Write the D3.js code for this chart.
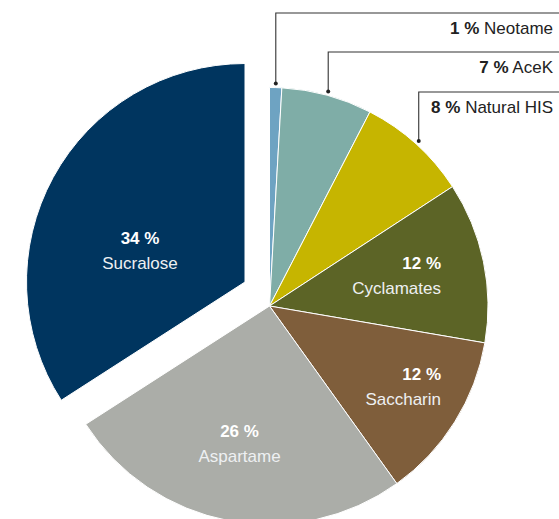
<!DOCTYPE html>
<html>
<head>
<meta charset="utf-8">
<script src="https://cdn.jsdelivr.net/npm/d3@7"></script>
<style>
  html, body { margin: 0; padding: 0; background: #ffffff; }
  svg { display: block; font-family: "Liberation Sans", Arial, Helvetica, sans-serif; }
</style>
</head>
<body>
<svg id="chart" width="559" height="519"></svg>
<script>
// ---- data ----
const categories = ["Neotame", "AceK", "Natural HIS", "Cyclamates", "Saccharin", "Aspartame", "Sucralose"];
const shares     = [0.9, 6.7, 8.2, 11.9, 12.4, 25.8, 34.1];
const shareLabels = ["1 %", "7 %", "8 %", "12 %", "12 %", "26 %", "34 %"];
const colors     = ["#6ea3c2", "#7fada7", "#c6b500", "#5c6426", "#7f5e3b", "#abada8", "#00355f"];

// ---- layout ----
const cx = 269.5, cy = 306, R = 218.5;
const explodeName = "Sucralose", explodeDx = -24.5, explodeDy = -24;
const calloutNames = ["Neotame", "AceK", "Natural HIS"];
const calloutLineY = [13, 52, 92];
const calloutTextX = 553;
const insideLabels = {
  "Sucralose":  {x: 140,   y: 244,   anchor: "middle"},
  "Aspartame":  {x: 239.5, y: 436.5, anchor: "middle"},
  "Saccharin":  {x: 441,   y: 380,   anchor: "end"},
  "Cyclamates": {x: 441,   y: 269,   anchor: "end"}
};

const data = categories.map((c, i) => ({name: c, value: shares[i], label: shareLabels[i], color: colors[i]}));

const svg = d3.select("#chart");
const g = svg.append("g").attr("transform", `translate(${cx},${cy})`);

const pie = d3.pie().sort(null).value(d => d.value).startAngle(0).endAngle(2 * Math.PI);
const arcs = pie(data);
const arc = d3.arc().innerRadius(0).outerRadius(R);

g.selectAll("path.slice")
  .data(arcs)
  .join("path")
  .attr("class", "slice")
  .attr("d", arc)
  .attr("fill", d => d.data.color)
  .attr("stroke", "#ffffff")
  .attr("stroke-width", 1)
  .attr("stroke-linejoin", "round")
  .attr("transform", d => d.data.name === explodeName ? `translate(${explodeDx},${explodeDy})` : null);

// inside labels
const lab = svg.append("g");
arcs.forEach(d => {
  const L = insideLabels[d.data.name];
  if (!L) return;
  const t = lab.append("text")
    .attr("x", L.x).attr("y", L.y)
    .attr("text-anchor", L.anchor)
    .attr("font-size", 17)
    .attr("fill", "#ffffff");
  t.append("tspan").attr("x", L.x).attr("font-weight", "bold").text(d.data.label);
  t.append("tspan").attr("x", L.x).attr("dy", 25).attr("fill", "#eef0f2").text(d.data.name);
});

// callouts
const co = svg.append("g");
calloutNames.forEach((name, i) => {
  const d = arcs.find(a => a.data.name === name);
  const mid = (d.startAngle + d.endAngle) / 2;
  const rr = R + 4;
  const px = cx + rr * Math.sin(mid);
  const py = cy - rr * Math.cos(mid);
  const ly = calloutLineY[i];
  co.append("path")
    .attr("d", `M${px},${py}V${ly}H559`)
    .attr("fill", "none")
    .attr("stroke", "#333333")
    .attr("stroke-width", 1.1);
  co.append("circle").attr("cx", px).attr("cy", py).attr("r", 2).attr("fill", "#222222");
  const t = co.append("text")
    .attr("x", calloutTextX).attr("y", ly + 20.5)
    .attr("text-anchor", "end")
    .attr("font-size", 17)
    .attr("fill", "#222222");
  t.append("tspan").attr("font-weight", "bold").text(d.data.label);
  t.append("tspan").text(" " + d.data.name);
});
</script>
</body>
</html>
